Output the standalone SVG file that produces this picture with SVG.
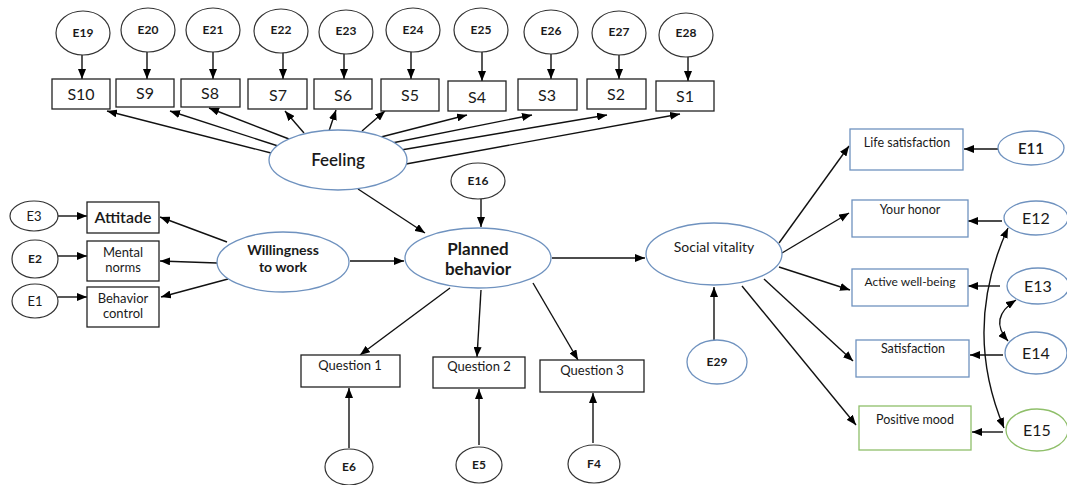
<svg xmlns="http://www.w3.org/2000/svg" width="1067" height="485" viewBox="0 0 1067 485">
<defs>
<marker id="ah" viewBox="0 0 10 8" refX="10" refY="4" markerWidth="10" markerHeight="8" markerUnits="userSpaceOnUse" orient="auto-start-reverse">
<path d="M0,0 L10,4 L0,8 z" fill="#000"/>
</marker>
<style>
text{font-family:Lato,"Liberation Sans",sans-serif;fill:#1a1a1a;text-anchor:middle}
.eb{fill:#fff;stroke:#333;stroke-width:1.2}
.eblue{fill:#fff;stroke:#6f92bf;stroke-width:1.3}
.egreen{fill:#fff;stroke:#8fbf6a;stroke-width:1.3}
.bx{fill:#fff;stroke:#222;stroke-width:1.3}
.bxb{fill:#fff;stroke:#6f92bf;stroke-width:1.3}
.bxg{fill:#fff;stroke:#8fbf6a;stroke-width:1.3}
.lab{font-size:12px;font-weight:bold}
.s{font-size:16px}
.c line,.c path{stroke:#111;stroke-width:1.4;fill:none;marker-end:url(#ah)}
.c .both{marker-start:url(#ah)}
</style>
</defs>
<rect width="1067" height="485" fill="#fff"/>

<g class="c" id="connectors">
<line x1="82" y1="55" x2="82" y2="79"/>
<line x1="147" y1="52" x2="147" y2="79"/>
<line x1="213" y1="52" x2="213" y2="79"/>
<line x1="283" y1="52" x2="283" y2="79"/>
<line x1="344" y1="54" x2="344" y2="79"/>
<line x1="411" y1="52" x2="411" y2="79"/>
<line x1="482" y1="52" x2="482" y2="81"/>
<line x1="551" y1="54" x2="551" y2="79"/>
<line x1="619" y1="55" x2="619" y2="79"/>
<line x1="688" y1="57" x2="688" y2="81"/>
<line x1="271" y1="153" x2="107" y2="111"/>
<line x1="278" y1="146" x2="170" y2="111"/>
<line x1="289" y1="139" x2="209" y2="108"/>
<line x1="304" y1="133" x2="285" y2="111"/>
<line x1="329" y1="131" x2="336" y2="110"/>
<line x1="362" y1="131" x2="385" y2="111"/>
<line x1="381" y1="137" x2="467" y2="115"/>
<line x1="392" y1="143" x2="532" y2="115"/>
<line x1="401" y1="150" x2="607" y2="115"/>
<line x1="406" y1="164" x2="680" y2="114"/>
<line x1="358" y1="189" x2="425" y2="233"/>
<line x1="481" y1="199" x2="481" y2="227"/>
<line x1="350" y1="261" x2="404" y2="261"/>
<line x1="227" y1="242" x2="160" y2="217"/>
<line x1="217" y1="263" x2="160" y2="261"/>
<line x1="228" y1="279" x2="161" y2="297"/>
<line x1="58" y1="216" x2="87" y2="216"/>
<line x1="58" y1="256" x2="87" y2="256"/>
<line x1="58" y1="297" x2="87" y2="297"/>
<line x1="450" y1="288" x2="360" y2="355"/>
<line x1="481" y1="290" x2="477" y2="357"/>
<line x1="533" y1="283" x2="578" y2="360"/>
<line x1="349" y1="448" x2="349" y2="388"/>
<line x1="479" y1="445" x2="479" y2="389"/>
<line x1="593" y1="443" x2="593" y2="393"/>
<line x1="552" y1="258" x2="645" y2="258"/>
<line x1="714" y1="340" x2="714" y2="287"/>
<line x1="779" y1="243" x2="849" y2="146"/>
<line x1="782" y1="253" x2="849" y2="213"/>
<line x1="779" y1="267" x2="850" y2="290"/>
<line x1="764" y1="279" x2="853" y2="361"/>
<line x1="742" y1="286" x2="856" y2="425"/>
<line x1="998" y1="149" x2="964" y2="149"/>
<line x1="1002" y1="221" x2="968" y2="221"/>
<line x1="1000" y1="286" x2="968" y2="286"/>
<line x1="1003" y1="355" x2="970" y2="355"/>
<line x1="1003" y1="432" x2="972" y2="432"/>
<path class="both" d="M1008,228 Q962,328 1004,428"/>
<path class="both" d="M1016,300 Q988,318 1008,341"/>
</g>

<g id="E19"><ellipse class="eb" cx="83" cy="33" rx="27" ry="22"/><text class="lab" x="83" y="37">E19</text></g>
<g id="E20"><ellipse class="eb" cx="148" cy="30" rx="27" ry="22"/><text class="lab" x="148" y="34">E20</text></g>
<g id="E21"><ellipse class="eb" cx="213" cy="30" rx="27" ry="22"/><text class="lab" x="213" y="34">E21</text></g>
<g id="E22"><ellipse class="eb" cx="281" cy="31" rx="27" ry="22"/><text class="lab" x="281" y="34">E22</text></g>
<g id="E23"><ellipse class="eb" cx="346" cy="32" rx="27" ry="22"/><text class="lab" x="346" y="35">E23</text></g>
<g id="E24"><ellipse class="eb" cx="413" cy="30" rx="27" ry="22"/><text class="lab" x="413" y="34">E24</text></g>
<g id="E25"><ellipse class="eb" cx="481" cy="30" rx="27" ry="22"/><text class="lab" x="481" y="34">E25</text></g>
<g id="E26"><ellipse class="eb" cx="551" cy="32" rx="27" ry="22"/><text class="lab" x="551" y="35">E26</text></g>
<g id="E27"><ellipse class="eb" cx="619" cy="33" rx="27" ry="22"/><text class="lab" x="619" y="36">E27</text></g>
<g id="E28"><ellipse class="eb" cx="686" cy="35" rx="27" ry="22"/><text class="lab" x="686" y="37">E28</text></g>

<g id="S10"><rect class="bx" x="52" y="79" width="58" height="30"/><text class="s" x="81" y="100">S10</text></g>
<g id="S9"><rect class="bx" x="116" y="79" width="58" height="28"/><text class="s" x="145" y="99">S9</text></g>
<g id="S8"><rect class="bx" x="181" y="79" width="59" height="28"/><text class="s" x="210" y="99">S8</text></g>
<g id="S7"><rect class="bx" x="248" y="79" width="59" height="30"/><text class="s" x="278" y="101">S7</text></g>
<g id="S6"><rect class="bx" x="314" y="79" width="58" height="30"/><text class="s" x="343" y="101">S6</text></g>
<g id="S5"><rect class="bx" x="381" y="79" width="58" height="32"/><text class="s" x="410" y="101">S5</text></g>
<g id="S4"><rect class="bx" x="448" y="81" width="58" height="30"/><text class="s" x="477" y="103">S4</text></g>
<g id="S3"><rect class="bx" x="518" y="79" width="59" height="31"/><text class="s" x="547" y="101">S3</text></g>
<g id="S2"><rect class="bx" x="587" y="79" width="59" height="30"/><text class="s" x="616" y="100">S2</text></g>
<g id="S1"><rect class="bx" x="656" y="81" width="58" height="30"/><text class="s" x="685" y="102">S1</text></g>

<g id="Feeling"><ellipse class="eblue" cx="338" cy="160" rx="69" ry="30"/><text x="338" y="166" style="font-size:17px;font-weight:600">Feeling</text></g>
<g id="E16"><ellipse class="eb" cx="478" cy="181" rx="27" ry="18"/><text class="lab" x="478" y="185">E16</text></g>
<g id="Planned"><ellipse class="eblue" cx="478" cy="258" rx="73" ry="30"/><text x="478" y="255" style="font-size:17px;font-weight:bold">Planned</text><text x="478" y="275" style="font-size:17px;font-weight:bold">behavior</text></g>
<g id="Willingness"><ellipse class="eblue" cx="283" cy="262" rx="66" ry="30"/><text x="283" y="255" style="font-size:14px;font-weight:bold">Willingness</text><text x="283" y="272" style="font-size:14px;font-weight:bold">to work</text></g>

<g id="Attitade"><rect class="bx" x="87" y="202" width="72" height="31"/><text x="123" y="223" style="font-size:16px;font-weight:600">Attitade</text></g>
<g id="Mental"><rect class="bx" x="87" y="241" width="72" height="40"/><text x="123" y="257" style="font-size:13px">Mental</text><text x="123" y="272" style="font-size:13px">norms</text></g>
<g id="Behavior"><rect class="bx" x="87" y="287" width="72" height="40"/><text x="123" y="303" style="font-size:13px">Behavior</text><text x="123" y="318" style="font-size:13px">control</text></g>
<g id="E3"><ellipse class="eb" cx="34" cy="216" rx="24" ry="15"/><text x="34" y="221" style="font-size:13px">E3</text></g>
<g id="E2"><ellipse class="eb" cx="35" cy="259" rx="23" ry="19"/><text class="lab" x="35" y="263">E2</text></g>
<g id="E1"><ellipse class="eb" cx="35" cy="301" rx="23" ry="17"/><text x="35" y="306" style="font-size:13px">E1</text></g>

<g id="Q1"><rect class="bx" x="301" y="355" width="99" height="32"/><text x="350" y="370" style="font-size:13px">Question 1</text></g>
<g id="Q2"><rect class="bx" x="433" y="357" width="92" height="31"/><text x="479" y="371" style="font-size:13px">Question 2</text></g>
<g id="Q3"><rect class="bx" x="540" y="360" width="104" height="32"/><text x="592" y="375" style="font-size:13px">Question 3</text></g>
<g id="E6"><ellipse class="eb" cx="349" cy="467" rx="24" ry="18"/><text class="lab" x="349" y="471">E6</text></g>
<g id="E5"><ellipse class="eb" cx="479" cy="465" rx="23" ry="18"/><text class="lab" x="479" y="469">E5</text></g>
<g id="F4"><ellipse class="eb" cx="594" cy="464" rx="26" ry="19"/><text class="lab" x="594" y="468">F4</text></g>

<g id="Social"><ellipse class="eblue" cx="714" cy="254" rx="68" ry="31"/><text x="714" y="252" style="font-size:14px">Social vitality</text></g>
<g id="E29"><ellipse class="eblue" cx="717" cy="362" rx="30" ry="22"/><text class="lab" x="717" y="366">E29</text></g>

<g id="LifeSat"><rect class="bxb" x="850" y="129" width="113" height="41"/><text x="907" y="147" style="font-size:12.5px">Life satisfaction</text></g>
<g id="Honor"><rect class="bxb" x="852" y="200" width="116" height="37"/><text x="910" y="214" style="font-size:12.5px">Your honor</text></g>
<g id="Active"><rect class="bxb" x="852" y="269" width="116" height="37"/><text x="910" y="286" style="font-size:12px">Active well-being</text></g>
<g id="Satis"><rect class="bxb" x="856" y="340" width="113" height="37"/><text x="913" y="353" style="font-size:12.5px">Satisfaction</text></g>
<g id="Mood"><rect class="bxg" x="859" y="406" width="112" height="44"/><text x="915" y="424" style="font-size:12.5px">Positive mood</text></g>

<g id="E11"><ellipse class="eblue" cx="1031" cy="148" rx="33" ry="17"/><text x="1031" y="154" style="font-size:15px;font-weight:600">E11</text></g>
<g id="E12"><ellipse class="eblue" cx="1036" cy="218" rx="32" ry="17"/><text x="1036" y="224" style="font-size:16px">E12</text></g>
<g id="E13"><ellipse class="eblue" cx="1038" cy="286" rx="31" ry="18"/><text x="1038" y="292" style="font-size:16px">E13</text></g>
<g id="E14"><ellipse class="eblue" cx="1036" cy="353" rx="31" ry="21"/><text x="1036" y="359" style="font-size:16px">E14</text></g>
<g id="E15"><ellipse class="egreen" cx="1037" cy="430" rx="31" ry="21"/><text x="1037" y="436" style="font-size:16px">E15</text></g>
</svg>
